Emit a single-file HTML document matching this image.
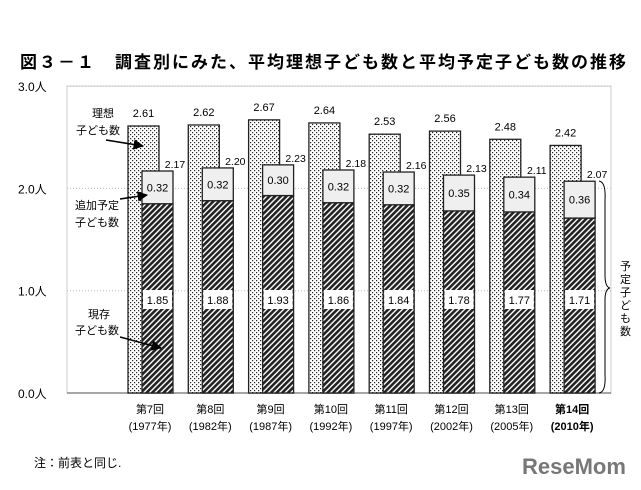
<!DOCTYPE html>
<html><head><meta charset="utf-8">
<style>
html,body{margin:0;padding:0;background:#fff;width:641px;height:490px;overflow:hidden}
text{font-family:"Liberation Sans","Noto Sans CJK JP",sans-serif;fill:#000}
</style></head>
<body>
<svg id="chart" width="641" height="490" viewBox="0 0 641 490" xmlns="http://www.w3.org/2000/svg">
<defs>
<pattern id="dots" width="4" height="4" patternUnits="userSpaceOnUse">
<rect width="4" height="4" fill="#fff"/><rect x="0" y="0" width="1.2" height="1.2" fill="#222"/><rect x="2" y="2" width="1.2" height="1.2" fill="#222"/>
</pattern>
<pattern id="hatch" width="4" height="4" patternUnits="userSpaceOnUse" patternTransform="rotate(45)">
<rect width="4" height="4" fill="#fff"/><rect width="2.6" height="4" fill="#222"/>
</pattern>
<marker id="arr" viewBox="0 0 10 10" refX="9" refY="5" markerWidth="7" markerHeight="7" orient="auto"><path d="M0,0 L10,5 L0,10 z" fill="#000"/></marker>
</defs>
<text x="20" y="68" font-size="17" font-weight="bold" letter-spacing="2">図３－１　調査別にみた、平均理想子ども数と平均予定子ども数の推移</text>
<g id="axis"></g>
<g id="bars"></g>
<g id="labels"></g>
<g id="xlabels"></g>
<g font-size="11">
<text x="92" y="117" font-size="11">理想</text>
<text x="76" y="134" font-size="11">子ども数</text>
<line x1="106" y1="140" x2="143" y2="146" stroke="#000" stroke-width="1.5" marker-end="url(#arr)"/>
<text x="75" y="209" font-size="11">追加予定</text>
<text x="75" y="226" font-size="11">子ども数</text>
<line x1="120" y1="199" x2="147" y2="195" stroke="#000" stroke-width="1.5" marker-end="url(#arr)"/>
<text x="88" y="318" font-size="11">現存</text>
<text x="75" y="334" font-size="11">子ども数</text>
<line x1="120" y1="337" x2="161" y2="348" stroke="#000" stroke-width="1.5" marker-end="url(#arr)"/>
<path d="M599,181 Q606,182 605,200 L605,275 Q605,287 610,288 Q605,289 605,300 L605,375 Q606,392 599,393" fill="none" stroke="#000" stroke-width="1"/>
<text font-size="11" x="620" y="270">予</text><text font-size="11" x="620" y="283">定</text><text font-size="11" x="620" y="296">子</text><text font-size="11" x="620" y="309">ど</text><text font-size="11" x="620" y="322">も</text><text font-size="11" x="620" y="335">数</text>
</g>
<text x="34" y="467" font-size="12">注：前表と同じ.</text>
<text x="522" y="474" font-size="22" font-weight="bold" style="fill:#777">ReseMom</text>
</svg>
<script>
const categories=["第7回","第8回","第9回","第10回","第11回","第12回","第13回","第14回"];
const years=["(1977年)","(1982年)","(1987年)","(1992年)","(1997年)","(2002年)","(2005年)","(2010年)"];
const ideal=[2.61,2.62,2.67,2.64,2.53,2.56,2.48,2.42];
const current=[1.85,1.88,1.93,1.86,1.84,1.78,1.77,1.71];
const additional=[0.32,0.32,0.30,0.32,0.32,0.35,0.34,0.36];
const planned=[2.17,2.20,2.23,2.18,2.16,2.13,2.11,2.07];
const yTicks=[0,1,2,3];
const yTickLabels=["0.0人","1.0人","2.0人","3.0人"];
const NS="http://www.w3.org/2000/svg";
const Y0=393,PX=102.3,X0=128,STEP=60.3,BW=31;
const y=v=>Y0-v*PX;
const x=i=>X0+i*STEP;
function mk(tag,attrs,parent,txt){const e=document.createElementNS(NS,tag);for(const k in attrs)e.setAttribute(k,attrs[k]);if(txt!=null)e.textContent=txt;parent.appendChild(e);return e;}
const ax=document.getElementById('axis');
mk('rect',{x:67,y:y(3),width:544,height:Y0-y(3),fill:'none',stroke:'#ccc','stroke-width':1},ax);
yTicks.forEach((t,i)=>{
 if(t>0){const g=mk('line',{x1:67,x2:611,y1:y(t),y2:y(t),stroke:'#bbb','stroke-dasharray':'1,2'},ax);
 
 }
 const tl=mk('text',{x:18,y:y(t)+5,'font-size':12},ax,yTickLabels[i]);
 
 
});
mk('line',{x1:67,x2:611,y1:Y0,y2:Y0,stroke:'#888','stroke-width':1.5},ax);
const bg=document.getElementById('bars');
const lg=document.getElementById('labels');
const xl=document.getElementById('xlabels');
categories.forEach((c,i)=>{
 const xi=x(i),xp=xi+14;
 const r1=mk('rect',{x:xi,y:y(ideal[i]),width:BW,height:Y0-y(ideal[i]),fill:'url(#dots)',stroke:'#222','stroke-width':1.3},bg);
 
 
 const l1=mk('text',{x:xi+BW/2,y:y(ideal[i])-9,'font-size':11,'text-anchor':'middle'},lg,ideal[i].toFixed(2));
 
 
 const r2=mk('rect',{x:xp,y:y(current[i]),width:BW,height:Y0-y(current[i]),fill:'url(#hatch)',stroke:'#222','stroke-width':1.3},bg);
 
 
 const top=current[i]+additional[i];
 const r3=mk('rect',{x:xp,y:y(top),width:BW,height:y(current[i])-y(top),fill:'#efefef',stroke:'#222','stroke-width':1.3},bg);
 
 
 const l3=mk('text',{x:xp+BW/2,y:(y(top)+y(current[i]))/2+4,'font-size':11,'text-anchor':'middle'},lg,additional[i].toFixed(2));
 
 
 const wb=mk('rect',{x:xp+1,y:290,width:BW-2,height:19,fill:'#fff'},bg);
 
 
 const l2=mk('text',{x:xp+BW/2,y:304,'font-size':11,'text-anchor':'middle'},lg,current[i].toFixed(2));
 
 
 const l4=mk('text',{x:xp+BW+2,y:y(planned[i])-3,'font-size':10.5,'text-anchor':'middle'},lg,planned[i].toFixed(2));
 
 
 const last=i===categories.length-1;
 const c1=mk('text',{x:xi+22,y:413,'font-size':11,'text-anchor':'middle','font-weight':last?'bold':'normal'},xl,c);
 
 
 const c2=mk('text',{x:xi+22,y:430,'font-size':11,'text-anchor':'middle','font-weight':last?'bold':'normal'},xl,years[i]);
 
 
});
</script>
</body></html>
